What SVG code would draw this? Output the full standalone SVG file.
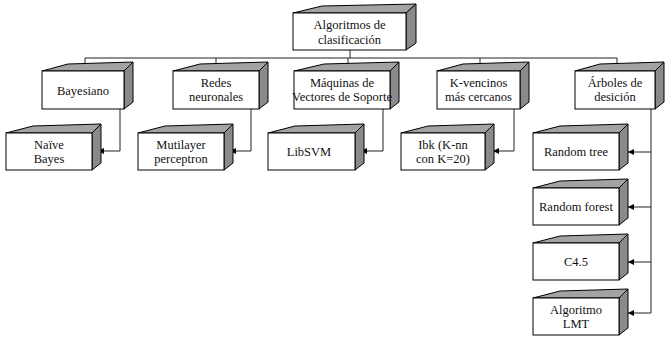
<svg xmlns="http://www.w3.org/2000/svg" width="669" height="339" viewBox="0 0 669 339" font-family="Liberation Serif, Tinos, DejaVu Serif, serif">
<style>
.f{fill:#fff;stroke:#000;stroke-width:1}
.t{fill:#a3a3a3;stroke:#000;stroke-width:1;stroke-linejoin:round}
.s{fill:#8a8a8a;stroke:#000;stroke-width:1;stroke-linejoin:round}
text{font-family:'Liberation Serif','DejaVu Serif',serif;font-size:12.5px;fill:#111;text-anchor:middle}
.c{fill:none;stroke:#222;stroke-width:1}
</style>
<defs>
<marker id="ah" markerWidth="6" markerHeight="6" refX="6" refY="3" orient="auto" markerUnits="userSpaceOnUse">
<path d="M0,0 L6,3 L0,6 z" fill="#000"/>
</marker>
</defs>
<rect width="669" height="339" fill="#fff"/>

<g id="connectors">
<path class="c" d="M350,50 V58"/>
<path class="c" d="M85,58 H617"/>
<path class="c" d="M85,58 V71" marker-end="url(#ah)"/>
<path class="c" d="M216,58 V71" marker-end="url(#ah)"/>
<path class="c" d="M348,58 V71" marker-end="url(#ah)"/>
<path class="c" d="M480,58 V71" marker-end="url(#ah)"/>
<path class="c" d="M617,58 V71" marker-end="url(#ah)"/>
<path class="c" d="M120,109 V151 H98" marker-end="url(#ah)"/>
<path class="c" d="M251,109 V151 H230" marker-end="url(#ah)"/>
<path class="c" d="M383,109 V151 H361" marker-end="url(#ah)"/>
<path class="c" d="M514,109 V151 H493" marker-end="url(#ah)"/>
<path class="c" d="M651,109 V313"/>
<path class="c" d="M651,152 H628" marker-end="url(#ah)"/>
<path class="c" d="M651,207 H628" marker-end="url(#ah)"/>
<path class="c" d="M651,262 H628" marker-end="url(#ah)"/>
<path class="c" d="M651,313 H628" marker-end="url(#ah)"/>
</g>

<g id="root">
<polygon class="t" points="293,13 322,6 416,4 406,13"/>
<polygon class="s" points="406,13 416,4 416,43 406,50"/>
<rect class="f" x="293" y="13" width="113" height="37"/>
<text x="349.5" y="29">Algoritmos de</text>
<text x="349.5" y="44">clasificación</text>
</g>

<g id="bayesiano">
<polygon class="t" points="42,71 68,64 133,62 124,71"/>
<polygon class="s" points="124,71 133,62 133,102 124,109"/>
<rect class="f" x="42" y="71" width="82" height="38"/>
<text x="83" y="94.5">Bayesiano</text>
</g>

<g id="redes">
<polygon class="t" points="173,71 200,64 268,62 259,71"/>
<polygon class="s" points="259,71 268,62 268,102 259,109"/>
<rect class="f" x="173" y="71" width="86" height="38"/>
<text x="216" y="87">Redes</text>
<text x="216" y="101">neuronales</text>
</g>

<g id="maquinas">
<polygon class="t" points="294,71 324,64 399,62 390,71"/>
<polygon class="s" points="390,71 399,62 399,102 390,109"/>
<rect class="f" x="294" y="71" width="96" height="38"/>
<text x="342" y="87">Máquinas de</text>
<text x="342" y="101">Vectores de Soporte</text>
</g>

<g id="kvecinos">
<polygon class="t" points="437,71 463,64 529,62 520,71"/>
<polygon class="s" points="520,71 529,62 529,102 520,109"/>
<rect class="f" x="437" y="71" width="83" height="38"/>
<text x="478.5" y="87">K-vencinos</text>
<text x="478.5" y="101">más cercanos</text>
</g>

<g id="arboles">
<polygon class="t" points="575,71 600,64 664,62 655,71"/>
<polygon class="s" points="655,71 664,62 664,102 655,109"/>
<rect class="f" x="575" y="71" width="80" height="38"/>
<text x="615" y="87">Árboles de</text>
<text x="615" y="101">desición</text>
</g>

<g id="naive">
<polygon class="t" points="6,133 33,126 101,124 92,133"/>
<polygon class="s" points="92,133 101,124 101,163 92,170"/>
<rect class="f" x="6" y="133" width="86" height="37"/>
<text x="49" y="149">Naïve</text>
<text x="49" y="163">Bayes</text>
</g>

<g id="mutilayer">
<polygon class="t" points="138,133 165,126 233,124 224,133"/>
<polygon class="s" points="224,133 233,124 233,163 224,170"/>
<rect class="f" x="138" y="133" width="86" height="37"/>
<text x="181" y="149">Mutilayer</text>
<text x="181" y="163">perceptron</text>
</g>

<g id="libsvm">
<polygon class="t" points="268,133 295,126 364,124 355,133"/>
<polygon class="s" points="355,133 364,124 364,163 355,170"/>
<rect class="f" x="268" y="133" width="87" height="37"/>
<text x="309" y="156">LibSVM</text>
</g>

<g id="ibk">
<polygon class="t" points="401,133 428,126 494,124 485,133"/>
<polygon class="s" points="485,133 494,124 494,163 485,170"/>
<rect class="f" x="401" y="133" width="84" height="37"/>
<text x="443" y="149">Ibk (K-nn</text>
<text x="443" y="163">con K=20)</text>
</g>

<g id="randomtree">
<polygon class="t" points="533,133 560,126 628,124 619,133"/>
<polygon class="s" points="619,133 628,124 628,163 619,170"/>
<rect class="f" x="533" y="133" width="86" height="37"/>
<text x="576" y="156">Random tree</text>
</g>

<g id="randomforest">
<polygon class="t" points="533,188 560,181 628,179 619,188"/>
<polygon class="s" points="619,188 628,179 628,218 619,225"/>
<rect class="f" x="533" y="188" width="86" height="37"/>
<text x="576" y="211">Random forest</text>
</g>

<g id="c45">
<polygon class="t" points="533,243 560,236 628,234 619,243"/>
<polygon class="s" points="619,243 628,234 628,273 619,280"/>
<rect class="f" x="533" y="243" width="86" height="37"/>
<text x="576" y="266">C4.5</text>
</g>

<g id="lmt">
<polygon class="t" points="533,298 560,291 628,289 619,298"/>
<polygon class="s" points="619,298 628,289 628,328 619,335"/>
<rect class="f" x="533" y="298" width="86" height="37"/>
<text x="576" y="314">Algoritmo</text>
<text x="576" y="328">LMT</text>
</g>
</svg>
